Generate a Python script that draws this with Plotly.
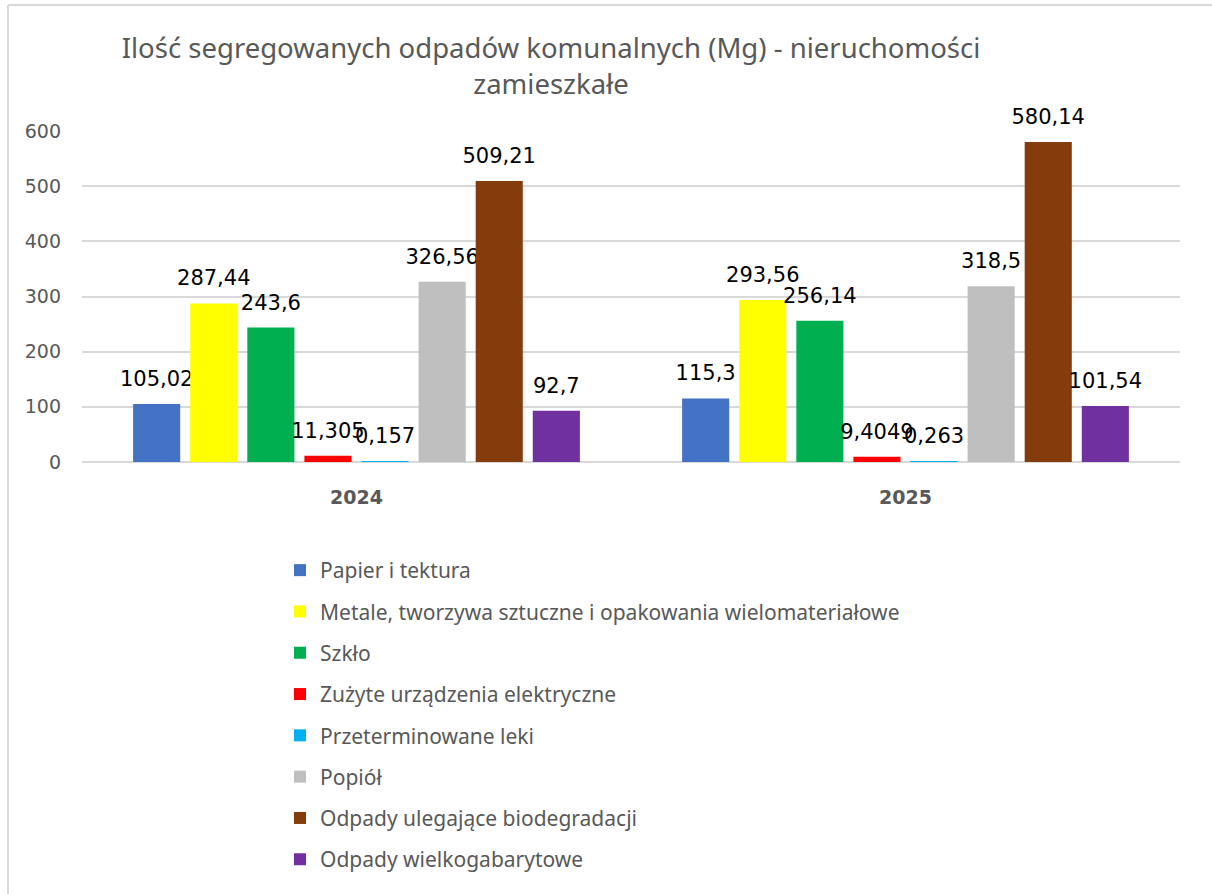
import plotly.graph_objects as go

years = ["2024", "2025"]
series_names = [
    "Papier i tektura",
    "Metale, tworzywa sztuczne i opakowania wielomateriałowe",
    "Szkło",
    "Zużyte urządzenia elektryczne",
    "Przeterminowane leki",
    "Popiół",
    "Odpady ulegające biodegradacji",
    "Odpady wielkogabarytowe",
]
papier = [105.02, 115.3]
metale = [287.44, 293.56]
szklo = [243.6, 256.14]
zuzyte = [11.305, 9.4049]
leki = [0.157, 0.263]
popiol = [326.56, 318.5]
bio = [509.21, 580.14]
wielko = [92.7, 101.54]
series_values = [papier, metale, szklo, zuzyte, leki, popiol, bio, wielko]
colors = ["#4472C4", "#FFFF00", "#00B050", "#FF0000", "#00B0F0", "#BFBFBF", "#843C0C", "#7030A0"]
y_ticks = [0, 100, 200, 300, 400, 500, 600]

def fmt(v):
    return ("%g" % v).replace(".", ",")

fig = go.Figure()
for i, (name, vals, col) in enumerate(zip(series_names, series_values, colors)):
    fig.add_trace(go.Bar(
        name=name, x=years, y=vals,
        marker=dict(color=col, line=dict(width=0)),
        text=["<span style='font-size:21px'>%s</span><br> " % fmt(v) for v in vals],
        textposition="outside",
        constraintext="none",
        textfont=dict(family="DejaVu Sans", size=10, color="#000000"),
        cliponaxis=False, legendgroup="g%d" % i,
    ))

W, H = 1212, 894
L, R, T, B = 82, 32, 131, 432
pw, ph = W - L - R, H - T - B

def px_x(x):
    return (x - L) / pw

def px_y(y):
    return (H - B - y) / ph

fig.update_layout(
    width=W, height=H,
    margin=dict(l=L, r=R, t=T, b=B),
    paper_bgcolor="white", plot_bgcolor="white",
    barmode="group", bargap=0.168, bargroupgap=0.175,
    title=dict(
        text="Ilość segregowanych odpadów komunalnych (Mg) - nieruchomości<br>zamieszkałe",
        x=551 / W, xanchor="center", xref="container",
        y=1 - 58 / H, yanchor="top", yref="container",
        font=dict(family="Noto Sans", size=27.5, color="#595959"),
    ),
    xaxis=dict(
        showgrid=False, showline=False, ticks="",
        tickfont=dict(family="DejaVu Sans", size=19, color="#595959", weight="bold"),
        ticklabelstandoff=22,
    ),
    yaxis=dict(
        range=[0, 600], tickvals=y_ticks,
        showgrid=True, gridcolor="#D9D9D9", gridwidth=1.5,
        zeroline=True, zerolinecolor="#D9D9D9", zerolinewidth=1.5,
        showline=False, ticks="",
        tickfont=dict(family="DejaVu Sans", size=19, color="#595959"),
        ticklabelstandoff=20,
    ),
    legend=dict(
        orientation="v", x=px_x(280), xanchor="left", y=px_y(550), yanchor="top",
        font=dict(family="Noto Sans", size=21, color="#595959"),
        tracegroupgap=11, itemwidth=30, bgcolor="rgba(0,0,0,0)",
    ),
    shapes=[
        dict(type="line", xref="paper", yref="paper", x0=px_x(8), x1=px_x(1212), y0=px_y(5), y1=px_y(5),
             line=dict(color="#D9D9D9", width=2)),
        dict(type="line", xref="paper", yref="paper", x0=px_x(8), x1=px_x(8), y0=px_y(5), y1=px_y(894),
             line=dict(color="#D9D9D9", width=2)),
    ],
)

fig.write_html("out.html", config={"displayModeBar": False},
               post_script="document.body.style.margin='0';")
